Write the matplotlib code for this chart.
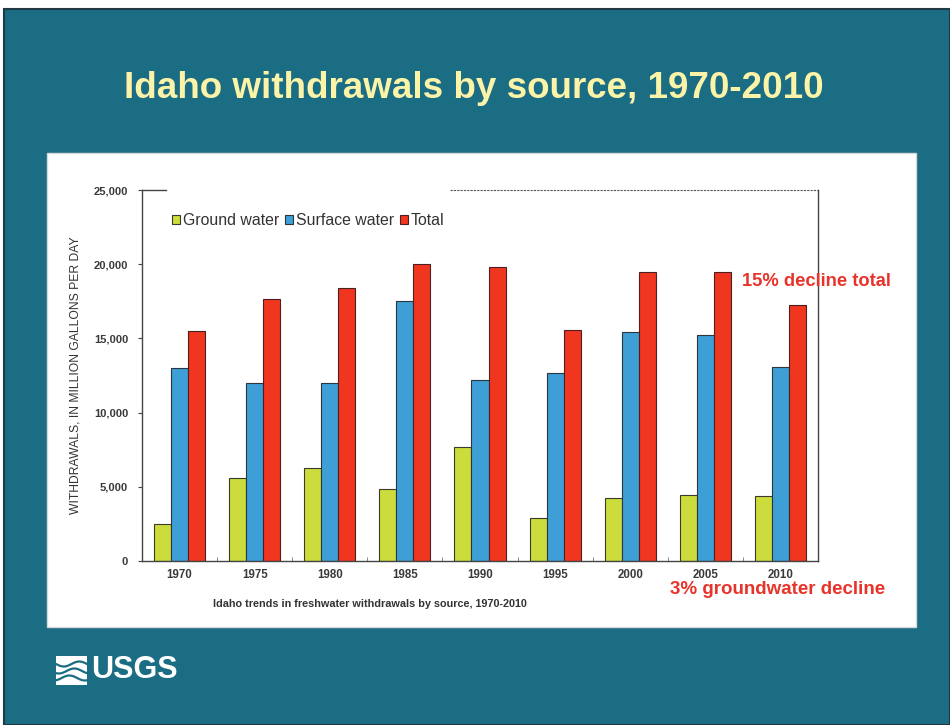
import matplotlib
matplotlib.use("Agg")
import matplotlib.pyplot as plt
import numpy as np
from matplotlib.patches import Rectangle
from matplotlib.lines import Line2D

years = ["1970", "1975", "1980", "1985", "1990", "1995", "2000", "2005", "2010"]
ground_water = [2500, 5600, 6300, 4850, 7700, 2900, 4250, 4450, 4400]
surface_water = [13000, 12000, 12000, 17500, 12200, 12700, 15400, 15200, 13100]
total = [15500, 17650, 18400, 20000, 19800, 15550, 19500, 19500, 17250]
yticks = [0, 5000, 10000, 15000, 20000, 25000]

plt.rcParams['font.family'] = ['Liberation Sans', 'DejaVu Sans']

W, H = 950, 725
fig = plt.figure(figsize=(9.5, 7.25), dpi=100, facecolor='white')

def fx(px):
    return px / W

def fy(py):
    return 1 - py / H

# teal slide background
fig.patches.append(Rectangle((fx(4), fy(725)), fx(946), (725 - 9) / H,
                             transform=fig.transFigure, facecolor='#1b6d84',
                             edgecolor='#203a44', linewidth=1.5, zorder=0))
# white panel
fig.patches.append(Rectangle((fx(47), fy(627)), fx(869), (627 - 153) / H,
                             transform=fig.transFigure, facecolor='white',
                             edgecolor='#d8d8d8', linewidth=1, zorder=1))

fig.text(fx(474), fy(88), "Idaho withdrawals by source, 1970-2010",
         color='#fbf3a8', fontsize=26.5, fontweight='bold', ha='center', va='center')

ax = fig.add_axes([fx(142), fy(561), fx(818 - 142), (561 - 190) / H], zorder=2)
ax.set_facecolor('none')
x = np.arange(len(years))
bw = 0.227
ax.bar(x - bw, ground_water, bw, color='#cbdc3c', edgecolor='#3a3a2a', linewidth=0.8,
       label='Ground water')
ax.bar(x, surface_water, bw, color='#3d9fd6', edgecolor='#2a3540', linewidth=0.8,
       label='Surface water')
ax.bar(x + bw, total, bw, color='#f0361e', edgecolor='#4a2020', linewidth=0.8,
       label='Total')

ax.set_xlim(-0.5, 8.5)
ax.set_ylim(0, 25000)
ax.set_yticks(yticks)
ax.set_yticklabels([f"{v:,}" for v in yticks], fontsize=8, fontweight='bold', color='#3a3a3a')
ax.set_xticks(x)
ax.set_xticklabels(years, fontsize=8.3, fontweight='bold', color='#3a3a3a')
ax.tick_params(axis='x', length=0, pad=6)
ax.tick_params(axis='y', length=3, width=0.8, pad=7, color='#444444')
ax.set_xticks(x[:-1] + 0.5, minor=True)
ax.tick_params(axis='x', which='minor', direction='in', length=3, color='#777777')

for s in ['left', 'bottom', 'right']:
    ax.spines[s].set_color('#444444')
    ax.spines[s].set_linewidth(1.0)
ax.spines['top'].set_visible(False)
ax.plot([0, 0.035], [1, 1], transform=ax.transAxes, color='#444444', lw=1.0, clip_on=False)
ax.plot([0.455, 1], [1, 1], transform=ax.transAxes, color='#555555', lw=0.8,
        ls=(0, (2, 1)), clip_on=False)

ax.set_ylabel("WITHDRAWALS, IN MILLION GALLONS PER DAY", fontsize=8.7, color='#333333',
              labelpad=9)

leg = ax.legend(loc='upper left', bbox_to_anchor=(0.035, 0.955), ncol=3, frameon=False,
                fontsize=11.4, handlelength=0.5, handleheight=0.5, handletextpad=0.2,
                columnspacing=0.35, borderaxespad=0)
for t in leg.get_texts():
    t.set_color('#333333')

fig.text(fx(370), fy(604), "Idaho trends in freshwater withdrawals by source, 1970-2010",
         fontsize=7.8, fontweight='bold', color='#333333', ha='center', va='center', zorder=3)

fig.text(fx(742), fy(282), "15% decline total", color='#e8332a', fontsize=13.2,
         fontweight='bold', ha='left', va='center', zorder=3)
fig.text(fx(670), fy(589), "3% groundwater decline", color='#e8332a', fontsize=13.5,
         fontweight='bold', ha='left', va='center', zorder=3)

# USGS logo
fig.patches.append(Rectangle((fx(56), fy(685)), fx(31), 29 / H, transform=fig.transFigure,
                             facecolor='white', edgecolor='none', zorder=3))
t = np.linspace(56, 87, 40)
for k, base in enumerate([664, 671, 678]):
    yy = base + 2.5 * np.sin((t - 56) / 31 * 2 * np.pi + k)
    fig.lines.append(Line2D(fx(t), fy(yy), transform=fig.transFigure, color='#1b6d84',
                            lw=1.6, zorder=4))
fig.text(fx(91), fy(670), "USGS", color='white', fontsize=22, fontweight='bold',
         family=['Liberation Sans Narrow', 'Liberation Sans', 'DejaVu Sans'],
         ha='left', va='center', zorder=3)

fig.savefig("out.png", dpi=100, facecolor=fig.get_facecolor())
